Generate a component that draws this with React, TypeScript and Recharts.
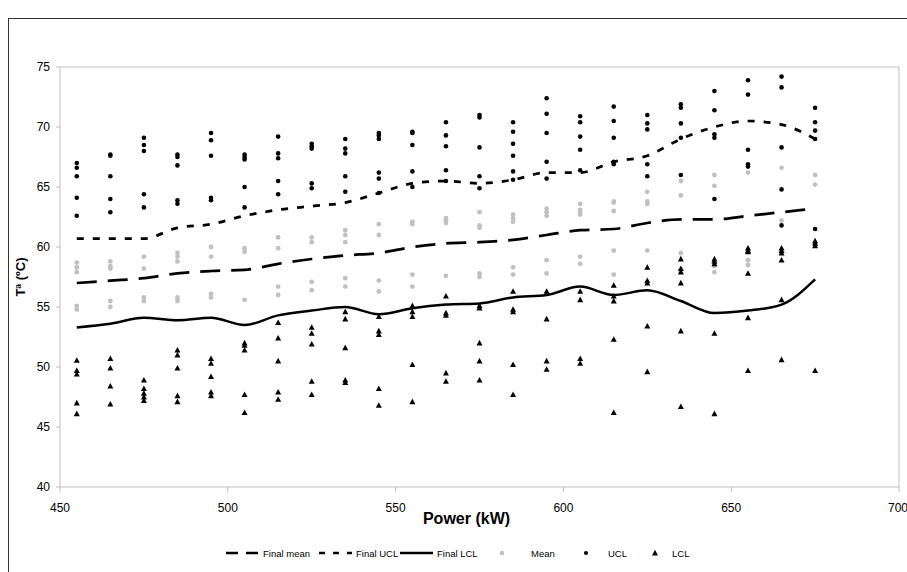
import React from "react";
import { ComposedChart, Line, Scatter, XAxis, YAxis, ReferenceLine } from "recharts";

// ─── Data ────────────────────────────────────────────────────

const powerKw = [455, 465, 475, 485, 495, 505, 515, 525, 535, 545, 555, 565, 575, 585, 595, 605, 615, 625, 635, 645, 655, 665, 675];

const finalMean = [57.0, 57.2, 57.4, 57.8, 58.0, 58.1, 58.6, 59.0, 59.3, 59.5, 60.0, 60.3, 60.4, 60.6, 61.0, 61.4, 61.5, 62.0, 62.3, 62.3, 62.6, 62.9, 63.2];
const finalUcl = [60.7, 60.7, 60.7, 61.6, 61.9, 62.6, 63.1, 63.4, 63.7, 64.5, 65.3, 65.5, 65.3, 65.6, 66.2, 66.2, 67.1, 67.6, 69.0, 70.0, 70.5, 70.2, 69.0];
const finalLcl = [53.3, 53.6, 54.1, 53.9, 54.1, 53.5, 54.3, 54.7, 55.0, 54.4, 54.9, 55.2, 55.3, 55.8, 56.0, 56.7, 56.0, 56.4, 55.5, 54.5, 54.7, 55.2, 57.3];

// observed values per power level (same order as powerKw)
const meanObs = [
  [58.7, 58.3, 57.9, 55.1, 54.8],
  [58.8, 58.4, 58.2, 55.5, 55.0],
  [59.2, 58.2, 55.8, 55.5],
  [59.5, 59.2, 58.8, 55.8, 55.5],
  [60.0, 59.2, 56.1, 55.8],
  [59.9, 59.6, 55.6],
  [60.8, 59.9, 56.7, 56.0],
  [60.8, 60.4, 57.1, 56.4],
  [61.4, 61.0, 60.4, 57.4, 56.7],
  [61.9, 61.0, 57.2, 56.3],
  [62.1, 61.9, 57.7, 56.7],
  [62.4, 62.2, 62.0, 57.6],
  [62.9, 61.8, 61.6, 57.8, 57.5],
  [62.7, 62.4, 62.1, 58.3, 57.7],
  [63.2, 62.9, 62.6, 58.9, 57.8],
  [63.6, 63.1, 62.9, 62.7, 59.2, 58.6],
  [63.8, 63.7, 63.0, 59.7, 57.7],
  [64.6, 63.8, 63.6, 59.7],
  [65.5, 64.3, 59.5, 57.9],
  [66.0, 65.1, 58.4, 57.9],
  [66.2, 58.9, 58.5],
  [66.6, 62.2],
  [66.0, 65.2],
];

const uclObs = [
  [67.0, 66.6, 65.9, 64.1, 62.6],
  [67.7, 67.6, 65.9, 64.0, 62.9],
  [69.1, 68.5, 68.0, 64.4, 63.3],
  [67.7, 67.5, 66.8, 63.9, 63.6],
  [69.5, 68.9, 67.6, 64.1, 63.9],
  [67.7, 67.5, 67.3, 65.0, 63.3],
  [69.2, 67.8, 67.4, 65.5, 64.4],
  [68.6, 68.4, 68.2, 65.3, 64.9],
  [69.0, 68.2, 67.8, 65.9, 64.6],
  [69.5, 69.3, 69.0, 66.2, 65.7, 64.5],
  [69.6, 69.5, 68.5, 66.3, 65.0],
  [70.4, 69.3, 68.4, 66.4, 65.5],
  [71.0, 70.8, 68.3, 65.9, 64.9],
  [70.4, 69.6, 68.6, 67.6, 66.3, 65.6],
  [72.4, 71.1, 69.5, 67.1, 65.7],
  [70.9, 70.4, 69.2, 68.1, 66.4],
  [71.7, 70.5, 69.1, 67.1, 66.9],
  [71.0, 70.3, 69.8, 66.9, 65.9],
  [71.9, 71.6, 70.3, 69.1, 66.0],
  [73.0, 71.4, 69.4, 69.1, 64.0],
  [73.9, 72.7, 68.1, 66.9, 66.7],
  [74.2, 73.3, 68.3, 64.8, 61.8],
  [71.6, 70.4, 69.7, 69.0, 61.5],
];

const lclObs = [
  [50.55, 49.7, 49.4, 47.0, 46.1],
  [50.7, 49.9, 48.4, 46.9],
  [48.9, 48.2, 47.8, 47.5, 47.2],
  [51.4, 51.0, 49.9, 47.6, 47.1],
  [50.7, 50.3, 49.2, 47.9, 47.6],
  [52.0, 51.8, 51.4, 47.7, 46.2],
  [53.7, 52.4, 50.5, 47.9, 47.3],
  [53.3, 52.8, 51.9, 48.8, 47.7],
  [54.6, 54.0, 51.6, 48.9, 48.7],
  [54.2, 53.0, 52.7, 48.2, 46.8],
  [55.1, 54.6, 54.2, 50.2, 47.1],
  [55.9, 54.5, 54.3, 49.5, 48.8],
  [55.1, 54.9, 52.0, 50.5, 48.9],
  [56.3, 54.8, 54.6, 50.2, 47.7],
  [56.3, 54.0, 50.5, 49.8],
  [56.3, 55.6, 50.7, 50.3],
  [56.8, 55.9, 55.5, 52.3, 46.2],
  [58.3, 57.2, 57.0, 53.4, 49.6],
  [59.0, 58.2, 57.9, 57.0, 53.0, 46.7],
  [59.0, 58.8, 58.6, 52.8, 46.1],
  [59.9, 59.7, 59.6, 57.8, 54.1, 49.7],
  [59.9, 59.7, 59.5, 58.9, 55.6, 50.6],
  [60.5, 60.3, 60.1, 49.7],
];

const xTicks = [450, 500, 550, 600, 650, 700];
const yTicks = [40, 45, 50, 55, 60, 65, 70, 75];

// ─── Styles ──────────────────────────────────────────────────

const FONT = "Arial, 'Liberation Sans', sans-serif";
const AXIS_GREY = "#bfbfbf";
const MEAN_GREY = "#c0c0c0";

const tickStyle = { fill: "#000", fontSize: 12, fontFamily: FONT };

const dotShape = (fill: string, r: number) => (p: any) =>
  <circle cx={p.cx} cy={p.cy} r={r} fill={fill} />;

const triShape = (p: any) => (
  <polygon
    points={`${p.cx},${p.cy - 3.2} ${p.cx - 3},${p.cy + 2.4} ${p.cx + 3},${p.cy + 2.4}`}
    fill="#000"
  />
);

const toPoints = (obs: number[][]) =>
  powerKw.flatMap((x, i) => obs[i].map((y) => ({ x, y })));

// ─── Legend ──────────────────────────────────────────────────

function ChartLegend() {
  const cy = 13;
  const txt = { fontSize: 9.5, fontFamily: FONT, fill: "#000" };
  return (
    <svg width={907} height={26} style={{ position: "absolute", left: 0, top: 540 }}>
      <line x1={226} x2={259} y1={cy} y2={cy} stroke="#000" strokeWidth={2.5} strokeDasharray="12 8" />
      <text x={263} y={cy + 3.5} {...txt}>Final mean</text>
      <line x1={319} x2={352} y1={cy} y2={cy} stroke="#000" strokeWidth={2.5} strokeDasharray="6 8" />
      <text x={356} y={cy + 3.5} {...txt}>Final UCL</text>
      <line x1={400} x2={433} y1={cy} y2={cy} stroke="#000" strokeWidth={2.5} />
      <text x={437} y={cy + 3.5} {...txt}>Final LCL</text>
      <circle cx={502} cy={cy} r={2.3} fill={MEAN_GREY} />
      <text x={531} y={cy + 3.5} {...txt}>Mean</text>
      <circle cx={586} cy={cy} r={2.1} fill="#000" />
      <text x={608} y={cy + 3.5} {...txt}>UCL</text>
      {triShape({ cx: 655, cy })}
      <text x={672} y={cy + 3.5} {...txt}>LCL</text>
    </svg>
  );
}

// ─── Chart ───────────────────────────────────────────────────

export default function App() {
  const lineData = powerKw.map((x, i) => ({
    x,
    mean: finalMean[i],
    ucl: finalUcl[i],
    lcl: finalLcl[i],
  }));

  return (
    <div>
      <div
        style={{
          position: "absolute",
          left: 8,
          top: 18,
          width: 910,
          height: 570,
          border: "1px solid #333",
          boxSizing: "border-box",
        }}
      />
      <div style={{ position: "absolute", left: 8, top: 18 }}>
        <ComposedChart width={899} height={554} margin={{ top: 49, right: 8, bottom: 45, left: 12 }}>
          <XAxis
            type="number"
            dataKey="x"
            domain={[450, 700]}
            ticks={xTicks}
            allowDataOverflow
            stroke={AXIS_GREY}
            tick={tickStyle}
            tickSize={5}
            tickMargin={11}
            height={40}
            label={{
              content: ({ viewBox }: any) => (
                <text
                  x={viewBox.x + viewBox.width / 2 - 13}
                  y={viewBox.y + 37}
                  textAnchor="middle"
                  fontFamily={FONT}
                  fontSize={16}
                  fontWeight="bold"
                  fill="#000"
                >
                  Power (kW)
                </text>
              ),
            }}
          />
          <YAxis
            type="number"
            domain={[40, 75]}
            ticks={yTicks}
            allowDataOverflow
            width={40}
            stroke={AXIS_GREY}
            tick={tickStyle}
            tickSize={4}
            tickMargin={6}
            label={{
              content: ({ viewBox }: any) => {
                const cx = 12;
                const cy = viewBox.y + viewBox.height / 2;
                return (
                  <text
                    x={cx}
                    y={cy}
                    transform={`rotate(-90 ${cx} ${cy})`}
                    textAnchor="middle"
                    dominantBaseline="central"
                    fontFamily={FONT}
                    fontSize={13}
                    fontWeight="bold"
                    fill="#000"
                  >
                    Tª (ºC)
                  </text>
                );
              },
            }}
          />
          <ReferenceLine y={75} stroke={AXIS_GREY} />
          <ReferenceLine x={700} stroke={AXIS_GREY} />

          <Line
            data={lineData}
            dataKey="mean"
            type="monotone"
            stroke="#000"
            strokeWidth={2.75}
            strokeDasharray="20 11"
            dot={false}
            isAnimationActive={false}
          />
          <Line
            data={lineData}
            dataKey="ucl"
            type="monotone"
            stroke="#000"
            strokeWidth={2.75}
            strokeDasharray="7 9"
            dot={false}
            isAnimationActive={false}
          />
          <Line
            data={lineData}
            dataKey="lcl"
            type="monotone"
            stroke="#000"
            strokeWidth={2.5}
            dot={false}
            isAnimationActive={false}
          />

          <Scatter data={toPoints(meanObs)} dataKey="y" shape={dotShape(MEAN_GREY, 2.4)} isAnimationActive={false} />
          <Scatter data={toPoints(uclObs)} dataKey="y" shape={dotShape("#000", 2.3)} isAnimationActive={false} />
          <Scatter data={toPoints(lclObs)} dataKey="y" shape={triShape} isAnimationActive={false} />
        </ComposedChart>
      </div>
      <ChartLegend />
    </div>
  );
}
